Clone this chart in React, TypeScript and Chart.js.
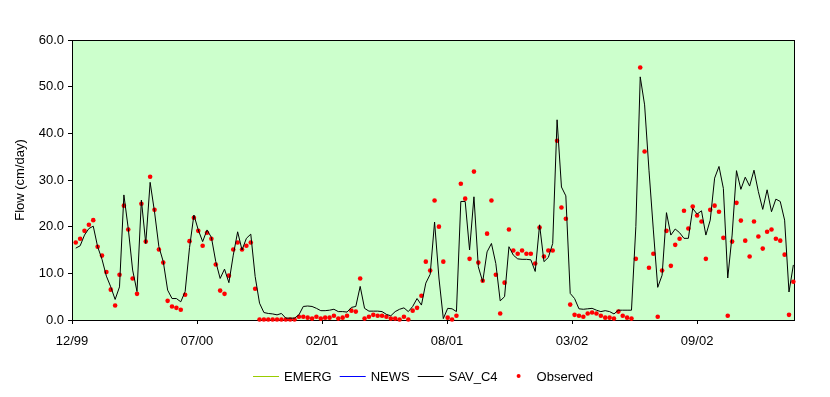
import React, { useEffect, useRef } from "react";
import { Chart, registerables } from "chart.js";

Chart.register(...registerables);

// X axis tick labels (every 200 days from the axis start)
const tickLabels = ["12/99", "07/00", "02/01", "08/01", "03/02", "09/02"];
const tickDays = [0, 200, 400, 600, 800, 1000];
const axisMaxDay = 1155;
// weekly samples: first sample 6 days after the axis start
const firstDay = 6;
const stepDays = 7;

// Modelled flow (cm/day), weekly
const savC4 = [
  15.4, 15.9, 18.2, 19.6, 20.1, 15.7, 13.0, 9.4, 7.1, 4.4,
  7.1, 26.8, 19.6, 10.7, 6.1, 25.7, 16.4, 29.5, 23.2, 15.7,
  12.5, 6.4, 4.6, 4.6, 3.9, 6.1, 15.5, 22.5, 19.3, 16.8,
  19.3, 17.7, 12.5, 8.9, 10.9, 8.0, 13.9, 18.9, 15.0, 17.5,
  18.4, 9.3, 3.6, 1.6, 1.4, 1.3, 1.1, 1.4, 0.4, 0.4,
  0.4, 1.1, 2.9, 3.0, 2.9, 2.5, 2.0, 2.0, 2.1, 2.3,
  1.8, 1.8, 1.7, 2.7, 2.9, 7.2, 2.5, 1.9, 1.9, 1.9,
  1.8, 1.2, 0.9, 1.8, 2.3, 2.6, 1.8, 2.9, 4.6, 3.2,
  7.9, 9.8, 21.0, 9.0, 0.3, 2.5, 2.4, 1.8, 25.4, 25.4,
  15.0, 26.4, 11.4, 8.2, 14.6, 16.4, 12.1, 4.1, 5.0, 15.7,
  13.9, 13.1, 13.0, 13.0, 12.9, 10.4, 20.4, 12.5, 13.4, 16.4,
  42.9, 28.5, 26.6, 5.7, 4.6, 2.4, 2.3, 2.4, 2.5, 2.1,
  1.8, 2.0, 1.8, 1.3, 2.1, 2.1, 2.1, 2.1, 20.0, 52.1,
  46.1, 32.1, 19.3, 7.0, 9.6, 23.0, 18.2, 19.5, 18.7, 17.5,
  17.5, 23.9, 22.7, 23.4, 18.2, 21.4, 30.4, 32.9, 28.2, 9.0,
  18.2, 32.0, 28.0, 30.6, 28.7, 32.1, 27.5, 23.7, 27.9, 23.2,
  25.9, 25.4, 21.4, 6.0, 11.8,
];

// Observed flow (cm/day), weekly
const observed = [
  16.6, 17.4, 19.1, 20.4, 21.4, 15.7, 13.8, 10.3, 6.5, 3.1,
  9.7, 24.5, 19.4, 8.9, 5.6, 24.9, 16.8, 30.7, 23.6, 15.1,
  12.3, 4.1, 2.9, 2.6, 2.2, 5.4, 16.9, 21.9, 19.1, 15.9,
  18.7, 17.4, 11.9, 6.3, 5.6, 9.5, 15.1, 16.6, 15.1, 15.9,
  16.6, 6.7, 0.1, 0.1, 0.1, 0.1, 0.1, 0.1, 0.1, 0.1,
  0.1, 0.7, 0.7, 0.5, 0.3, 0.7, 0.3, 0.5, 0.5, 0.9,
  0.3, 0.5, 0.9, 2.0, 1.8, 8.9, 0.3, 0.7, 1.1, 0.9,
  0.9, 0.7, 0.3, 0.3, 0.1, 0.7, 0.1, 2.0, 2.6, 5.2,
  12.5, 10.6, 25.6, 20.0, 12.5, 0.5, 0.1, 0.9, 29.2, 26.0,
  13.1, 31.8, 12.3, 8.4, 18.5, 25.6, 9.7, 1.4, 8.0, 19.4,
  14.9, 14.2, 14.9, 14.2, 14.2, 12.1, 19.8, 13.6, 14.9, 14.9,
  38.4, 24.1, 21.7, 3.3, 1.1, 0.9, 0.7, 1.4, 1.6, 1.4,
  0.9, 0.5, 0.5, 0.3, 1.8, 0.9, 0.5, 0.3, 13.1, 54.1,
  36.1, 11.2, 14.2, 0.7, 10.6, 19.1, 11.6, 16.1, 17.4, 23.4,
  19.6, 24.3, 22.4, 21.1, 13.1, 23.6, 24.5, 23.2, 17.6, 0.9,
  16.8, 25.1, 21.3, 17.0, 13.6, 21.1, 17.9, 15.3, 18.9, 19.4,
  17.4, 17.0, 14.0, 1.1, 8.2,
];

// Other model runs (coincide with / hidden under SAV_C4 in the original)
const emerg: (number | null)[] = [];
const news: (number | null)[] = [];

const FONT = "'Liberation Sans', Arial, sans-serif";

const toPoints = (vals: (number | null)[]) =>
  vals.map((v, i) => ({ x: firstDay + i * stepDays, y: v }));

const framePlugin = {
  id: "frame",
  beforeDraw(chart: any) {
    const { ctx, chartArea } = chart;
    const { left, top, right, bottom } = chartArea;
    ctx.save();
    ctx.fillStyle = "#CCFFCC";
    ctx.fillRect(left, top, right - left, bottom - top);
    ctx.restore();
  },
  beforeDatasetsDraw(chart: any) {
    const { ctx, chartArea } = chart;
    const l = Math.round(chartArea.left) + 0.5;
    const t = Math.round(chartArea.top) + 0.5;
    const r = Math.round(chartArea.right) + 0.5;
    const b = Math.round(chartArea.bottom) + 0.5;
    ctx.save();
    ctx.strokeStyle = "#000";
    ctx.lineWidth = 1;
    ctx.strokeRect(l, t, r - l, b - t);
    ctx.restore();
  },
};

const legendPlugin = {
  id: "customLegend",
  afterDraw(chart: any) {
    const { ctx } = chart;
    const sets = chart.data.datasets;
    const sample = 26;
    const gap = 5;
    const itemGap = 8;
    const y = 376;
    const cx = 423;
    ctx.save();
    ctx.font = `13px ${FONT}`;
    ctx.textBaseline = "middle";
    ctx.textAlign = "left";
    const widths = sets.map((d: any) => sample + gap + ctx.measureText(d.label).width);
    const total = widths.reduce((a: number, b: number) => a + b, 0) + itemGap * (sets.length - 1);
    let x = cx - total / 2;
    sets.forEach((d: any, i: number) => {
      if (d.showLine === false) {
        ctx.fillStyle = d.pointBackgroundColor;
        ctx.beginPath();
        ctx.arc(x + sample / 2, y, 2, 0, Math.PI * 2);
        ctx.fill();
      } else {
        ctx.strokeStyle = d.borderColor;
        ctx.lineWidth = 1;
        ctx.beginPath();
        ctx.moveTo(x, y + 0.5);
        ctx.lineTo(x + sample, y + 0.5);
        ctx.stroke();
      }
      ctx.fillStyle = "#000";
      ctx.fillText(d.label, x + sample + gap, y + 1);
      x += widths[i] + itemGap;
    });
    ctx.restore();
  },
};

export default function App() {
  const canvasRef = useRef<HTMLCanvasElement | null>(null);

  useEffect(() => {
    const canvas = canvasRef.current;
    if (!canvas) return;
    const chart = new Chart(canvas, {
      type: "line",
      data: {
        datasets: [
          {
            label: "EMERG",
            data: toPoints(emerg),
            borderColor: "#99CC00",
            backgroundColor: "#99CC00",
            borderWidth: 1,
            pointRadius: 0,
            tension: 0,
          },
          {
            label: "NEWS",
            data: toPoints(news),
            borderColor: "#0000FF",
            backgroundColor: "#0000FF",
            borderWidth: 1,
            pointRadius: 0,
            tension: 0,
          },
          {
            label: "SAV_C4",
            data: toPoints(savC4),
            borderColor: "#000000",
            backgroundColor: "#000000",
            borderWidth: 1,
            pointRadius: 0,
            tension: 0,
          },
          {
            label: "Observed",
            data: toPoints(observed),
            showLine: false,
            borderColor: "#FF0000",
            backgroundColor: "#FF0000",
            pointBackgroundColor: "#FF0000",
            pointBorderWidth: 0,
            pointRadius: 2.3,
            clip: false,
          } as any,
        ],
      },
      options: {
        animation: false,
        responsive: false,
        devicePixelRatio: 1,
        events: [],
        layout: { padding: { left: 0, right: 36, top: 40, bottom: 47 } },
        plugins: {
          legend: { display: false },
          tooltip: { enabled: false },
        },
        scales: {
          x: {
            type: "linear",
            min: 0,
            max: axisMaxDay,
            afterBuildTicks: (scale: any) => {
              scale.ticks = tickDays.map((v) => ({ value: v }));
            },
            afterFit: (scale: any) => {
              scale.height = 30;
            },
            ticks: {
              autoSkip: false,
              maxRotation: 0,
              padding: 10,
              color: "#000",
              font: { family: FONT, size: 13 },
              callback: (v: any) => {
                const k = tickDays.indexOf(Number(v));
                return k >= 0 ? tickLabels[k] : "";
              },
            },
            grid: {
              drawOnChartArea: false,
              drawTicks: true,
              tickLength: 4,
              color: "#000",
            },
            border: { display: true, color: "#000" },
          },
          y: {
            min: 0,
            max: 60,
            afterFit: (scale: any) => {
              scale.width = 72;
            },
            ticks: {
              stepSize: 10,
              padding: 4,
              color: "#000",
              font: { family: FONT, size: 13 },
              callback: (v: any) => Number(v).toFixed(1),
            },
            grid: {
              drawOnChartArea: false,
              drawTicks: true,
              tickLength: 4,
              color: "#000",
            },
            border: { display: true, color: "#000" },
            title: {
              display: true,
              text: "Flow (cm/day)",
              color: "#000",
              font: { family: FONT, size: 13 },
              padding: { top: 13, bottom: 0 },
            },
          },
        },
      },
      plugins: [framePlugin, legendPlugin],
    });
    return () => chart.destroy();
  }, []);

  return (
    <div style={{ position: "fixed", left: 0, top: 0, width: 830, height: 397, background: "#fff" }}>
      <canvas ref={canvasRef} width={830} height={397} style={{ display: "block" }} />
    </div>
  );
}
